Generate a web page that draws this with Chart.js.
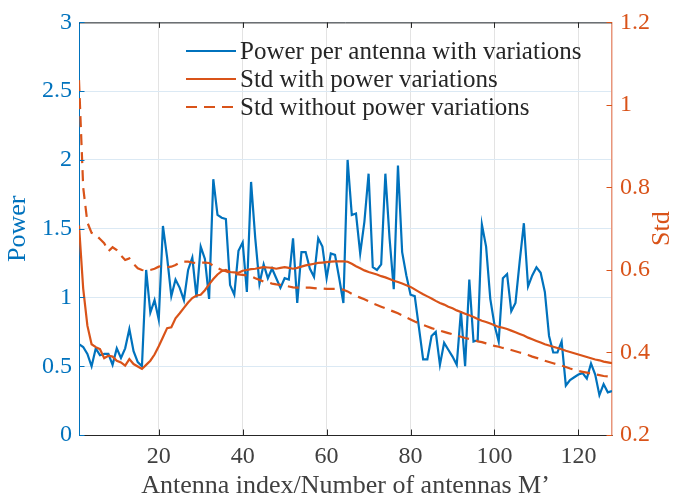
<!DOCTYPE html>
<html>
<head>
<meta charset="utf-8">
<script src="https://cdn.jsdelivr.net/npm/chart.js@4.4.1/dist/chart.umd.min.js"></script>
<style>
  body { margin: 0; background: #fff; }
  #powerChart { display: block; }
</style>
</head>
<body>
<canvas id="powerChart" width="677" height="497"></canvas>
<script>
const antennaIdx = Array.from({ length: 128 }, (_, i) => i + 1);

const powerPerAntenna = [
  0.66, 0.64, 0.59, 0.50, 0.63, 0.58, 0.59, 0.59, 0.51, 0.63,
  0.56, 0.63, 0.77, 0.61, 0.53, 0.50, 1.20, 0.89, 0.98, 0.84,
  1.52, 1.29, 1.01, 1.13, 1.07, 0.98, 1.20, 1.29, 1.00, 1.37,
  1.28, 0.99, 1.86, 1.60, 1.58, 1.57, 1.09, 1.02, 1.34, 1.40,
  1.04, 1.84, 1.43, 1.10, 1.24, 1.14, 1.21, 1.14, 1.07, 1.14,
  1.13, 1.43, 0.96, 1.33, 1.33, 1.21, 1.15, 1.43, 1.37, 1.14,
  1.32, 1.31, 1.14, 0.96, 2.00, 1.60, 1.61, 1.32, 1.55, 1.90,
  1.22, 1.20, 1.24, 1.90, 1.43, 1.06, 1.96, 1.33, 1.16, 1.02,
  1.01, 0.78, 0.55, 0.55, 0.72, 0.75, 0.51, 0.67, 0.62, 0.57,
  0.51, 0.90, 0.50, 1.13, 0.68, 0.69, 1.53, 1.37, 0.99, 0.80,
  0.68, 1.14, 1.17, 0.90, 0.96, 1.26, 1.54, 1.08, 1.16, 1.22,
  1.18, 1.04, 0.72, 0.60, 0.60, 0.68, 0.36, 0.40, 0.42, 0.44,
  0.45, 0.41, 0.52, 0.44, 0.29, 0.37, 0.31, 0.32
];

const stdWithVariations = [
  0.708, 0.555, 0.465, 0.420, 0.413, 0.408, 0.386, 0.392, 0.390, 0.380,
  0.376, 0.368, 0.384, 0.372, 0.366, 0.360, 0.370, 0.380, 0.395, 0.415,
  0.437, 0.459, 0.461, 0.483, 0.495, 0.508, 0.521, 0.532, 0.538, 0.540,
  0.551, 0.565, 0.578, 0.589, 0.597, 0.600, 0.595, 0.594, 0.593, 0.598,
  0.600, 0.602, 0.603, 0.605, 0.607, 0.606, 0.605, 0.603, 0.605, 0.607,
  0.605, 0.603, 0.605, 0.608, 0.611, 0.613, 0.615, 0.617, 0.618, 0.619,
  0.620, 0.621, 0.621, 0.621, 0.620, 0.615, 0.609, 0.604, 0.599, 0.595,
  0.592, 0.589, 0.585, 0.582, 0.578, 0.574, 0.571, 0.567, 0.563, 0.559,
  0.553, 0.547, 0.541, 0.536, 0.531, 0.525, 0.520, 0.516, 0.511, 0.507,
  0.502, 0.498, 0.494, 0.490, 0.486, 0.481, 0.477, 0.474, 0.470, 0.466,
  0.462, 0.460, 0.457, 0.453, 0.449, 0.445, 0.441, 0.436, 0.432, 0.428,
  0.424, 0.420, 0.417, 0.414, 0.411, 0.408, 0.404, 0.401, 0.398, 0.395,
  0.392, 0.389, 0.386, 0.383, 0.381, 0.378, 0.376, 0.374
];

const stdWithoutVariations = [
  1.060, 0.800, 0.715, 0.690, 0.685, 0.675, 0.665, 0.645, 0.655, 0.648,
  0.635, 0.624, 0.628, 0.615, 0.604, 0.600, 0.598, 0.600, 0.603, 0.608,
  0.610, 0.607, 0.608, 0.612, 0.618, 0.620, 0.620, 0.618, 0.617, 0.618,
  0.618, 0.617, 0.610, 0.605, 0.600, 0.597, 0.593, 0.590, 0.589, 0.588,
  0.587, 0.585, 0.580, 0.576, 0.572, 0.570, 0.567, 0.565, 0.564, 0.562,
  0.560, 0.558, 0.557, 0.557, 0.557, 0.557, 0.556, 0.555, 0.555, 0.554,
  0.554, 0.554, 0.554, 0.552, 0.548, 0.542, 0.537, 0.533, 0.529, 0.524,
  0.519, 0.515, 0.511, 0.507, 0.503, 0.499, 0.495, 0.490, 0.485, 0.480,
  0.475, 0.471, 0.467, 0.463, 0.459, 0.456, 0.453, 0.450, 0.447, 0.444,
  0.441, 0.438, 0.435, 0.433, 0.430, 0.427, 0.425, 0.422, 0.419, 0.416,
  0.414, 0.411, 0.409, 0.406, 0.403, 0.400, 0.397, 0.394, 0.390, 0.387,
  0.384, 0.380, 0.377, 0.374, 0.371, 0.368, 0.365, 0.361, 0.358, 0.355,
  0.353, 0.351, 0.349, 0.347, 0.345, 0.343, 0.342, 0.340
];

const xTicks = [20, 40, 60, 80, 100, 120];
const powerTicks = [0, 0.5, 1, 1.5, 2, 2.5, 3];
const stdTicks = [0.2, 0.4, 0.6, 0.8, 1, 1.2];

const seriesLabels = [
  'Power per antenna with variations',
  'Std with power variations',
  'Std without power variations'
];

const BLUE = '#0072BD';
const ORANGE = '#D95319';
const DARK = '#262626';
const FONT = '"Liberation Serif", "DejaVu Serif", serif';

function toPoints(values) {
  return antennaIdx.map((x, i) => ({ x: x, y: values[i] }));
}

function setTicks(list) {
  return scale => { scale.ticks = list.map(v => ({ value: v })); };
}

const plainLabel = v => String(v);

// box line on top, inward tick marks, rotated y titles, legend
const decorPlugin = {
  id: 'decor',
  afterDraw(chart) {
    const ctx = chart.ctx;
    const area = chart.chartArea;
    const x = chart.scales.x, yL = chart.scales.y, yR = chart.scales.y1;
    const tick = 5.5;
    ctx.save();
    ctx.lineWidth = 1;

    ctx.strokeStyle = DARK;
    ctx.beginPath();
    ctx.moveTo(area.left, area.top + 0.5);
    ctx.lineTo(area.right, area.top + 0.5);
    xTicks.forEach(v => {
      const px = Math.round(x.getPixelForValue(v)) + 0.5;
      ctx.moveTo(px, area.bottom);
      ctx.lineTo(px, area.bottom - tick);
      ctx.moveTo(px, area.top);
      ctx.lineTo(px, area.top + tick);
    });
    ctx.stroke();

    ctx.strokeStyle = BLUE;
    ctx.beginPath();
    powerTicks.forEach(v => {
      const py = Math.round(yL.getPixelForValue(v)) + 0.5;
      ctx.moveTo(area.left, py);
      ctx.lineTo(area.left + tick, py);
    });
    ctx.stroke();

    ctx.strokeStyle = ORANGE;
    ctx.beginPath();
    stdTicks.forEach(v => {
      const py = Math.round(yR.getPixelForValue(v)) + 0.5;
      ctx.moveTo(area.right, py);
      ctx.lineTo(area.right - tick, py);
    });
    ctx.stroke();

    // y titles, both read bottom to top
    const midY = (area.top + area.bottom) / 2;
    ctx.font = '26px ' + FONT;
    ctx.textAlign = 'center';
    ctx.textBaseline = 'middle';
    ctx.fillStyle = BLUE;
    ctx.save();
    ctx.translate(18, midY);
    ctx.rotate(-Math.PI / 2);
    ctx.fillText('Power', 0, 0);
    ctx.restore();
    ctx.fillStyle = ORANGE;
    ctx.save();
    ctx.translate(662, midY);
    ctx.rotate(-Math.PI / 2);
    ctx.fillText('Std', 0, 0);
    ctx.restore();

    // legend
    const rows = [51, 79, 107];
    const styles = [
      { color: BLUE, dash: [] },
      { color: ORANGE, dash: [] },
      { color: ORANGE, dash: [11, 7] }
    ];
    ctx.font = '25px ' + FONT;
    ctx.textAlign = 'left';
    ctx.textBaseline = 'middle';
    rows.forEach((ry, i) => {
      ctx.strokeStyle = styles[i].color;
      ctx.lineWidth = 2.2;
      ctx.setLineDash(styles[i].dash);
      ctx.beginPath();
      ctx.moveTo(186, ry);
      ctx.lineTo(236, ry);
      ctx.stroke();
      ctx.setLineDash([]);
      ctx.fillStyle = DARK;
      ctx.fillText(seriesLabels[i], 240, ry + 1);
    });
    ctx.restore();
  }
};

function initPowerChart() {
  const ctx = document.getElementById('powerChart');

  new Chart(ctx, {
    type: 'line',
    data: {
      datasets: [
        {
          label: seriesLabels[0],
          data: toPoints(powerPerAntenna),
          borderColor: BLUE,
          borderWidth: 2.2,
          pointRadius: 0,
          tension: 0,
          yAxisID: 'y',
          order: 3
        },
        {
          label: seriesLabels[1],
          data: toPoints(stdWithVariations),
          borderColor: ORANGE,
          borderWidth: 2.2,
          pointRadius: 0,
          tension: 0,
          yAxisID: 'y1',
          order: 1
        },
        {
          label: seriesLabels[2],
          data: toPoints(stdWithoutVariations),
          borderColor: ORANGE,
          borderWidth: 2.2,
          borderDash: [11, 7],
          pointRadius: 0,
          tension: 0,
          yAxisID: 'y1',
          order: 2
        }
      ]
    },
    options: {
      responsive: false,
      animation: false,
      devicePixelRatio: 1,
      layout: { padding: { top: 18, left: 0, right: 0, bottom: 0 } },
      plugins: {
        legend: { display: false },
        tooltip: { enabled: false }
      },
      scales: {
        x: {
          type: 'linear',
          min: 1,
          max: 128,
          afterBuildTicks: setTicks(xTicks),
          afterFit: scale => { scale.height = 62; },
          grid: { color: '#e3e3e3', drawTicks: false },
          border: { color: DARK, width: 1 },
          ticks: {
            color: '#404040',
            padding: 7,
            maxRotation: 0,
            callback: plainLabel,
            font: { family: FONT, size: 24 }
          },
          title: {
            display: true,
            text: 'Antenna index/Number of antennas M’',
            color: '#404040',
            padding: { top: 0, bottom: -5 },
            font: { family: FONT, size: 26 }
          }
        },
        y: {
          type: 'linear',
          position: 'left',
          min: 0,
          max: 3,
          afterBuildTicks: setTicks(powerTicks),
          afterFit: scale => { scale.width = 79; },
          grid: { color: '#dbe9f4', drawTicks: false },
          border: { color: BLUE, width: 1 },
          ticks: {
            color: BLUE,
            padding: 7,
            callback: plainLabel,
            font: { family: FONT, size: 24 }
          }
        },
        y1: {
          type: 'linear',
          position: 'right',
          min: 0.2,
          max: 1.2,
          afterBuildTicks: setTicks(stdTicks),
          afterFit: scale => { scale.width = 65; },
          grid: { drawOnChartArea: false, drawTicks: false },
          border: { color: '#e8957a', width: 1.5 },
          ticks: {
            color: ORANGE,
            padding: 8,
            callback: plainLabel,
            font: { family: FONT, size: 24 }
          }
        }
      }
    },
    plugins: [decorPlugin]
  });
}

document.addEventListener('DOMContentLoaded', initPowerChart);
</script>
</body>
</html>
